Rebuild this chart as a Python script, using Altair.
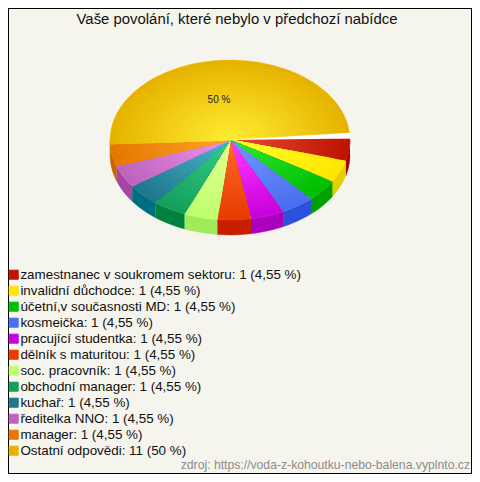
import math
import altair as alt
import pandas as pd

categories = ["zamestnanec v soukromem sektoru", "invalidní důchodce", "účetní,v současnosti MD",
              "kosmeička", "pracující studentka", "dělník s maturitou", "soc. pracovník",
              "obchodní manager", "kuchař", "ředitelka NNO", "manager", "Ostatní odpovědi"]
counts = [1, 1, 1, 1, 1, 1, 1, 1, 1, 1, 1, 11]
percents = ["4,55 %"] * 11 + ["50 %"]
rim_colors = ["#BE1400", "#FFE600", "#00BE00", "#4B6EF0", "#C800DC", "#E63C00",
              "#BEFF6E", "#14A05A", "#1E788C", "#BE64BE", "#E67800", "#E6B400"]
center_colors = ["#E84A36", "#FFFF32", "#32E632", "#7098FF", "#FF3CFF", "#FF6A28",
                 "#E6FF96", "#36CC86", "#4AB4CC", "#EC90EC", "#FFA428", "#FFEB32"]
side_colors = ["#A00000", "#E6CE00", "#00A000", "#2C50DC", "#AA00BE", "#C81E00",
               "#A0EB5A", "#00823C", "#006E82", "#A546A5", "#CC6400", "#B48C00"]

W, H = 464, 466
CX, CY, RX, RY, DEPTH = 222, 132, 120, 80, 15
START, GAP, RINGS = -1.0, 4.0, 20

labels = [f"{c}: {n} ({p})" for c, n, p in zip(categories, counts, percents)]


def mix(a, b, f):
    pa = [int(a[i:i + 2], 16) for i in (1, 3, 5)]
    pb = [int(b[i:i + 2], 16) for i in (1, 3, 5)]
    return "#%02x%02x%02x" % tuple(round(u + (v - u) * f) for u, v in zip(pa, pb))


def arc_pts(t0, t1, frac=1.0, dy=0.0):
    n = max(2, int((t1 - t0) / 3) + 2)
    out = []
    for i in range(n):
        t = math.radians(t0 + (t1 - t0) * i / (n - 1))
        out.append((CX + RX * frac * math.cos(t), CY + RY * frac * math.sin(t) + dy))
    return out


total = sum(counts)
sweep = 360 - GAP
spans = []
cur = START
for n in counts:
    spans.append((cur, cur + sweep * n / total))
    cur = spans[-1][1]

base_rows, ring_rows, side_rows, halo_rows = [], [], [], []
poly = 0


def add(rows, pts, **extra):
    global poly
    poly += 1
    for k, (x, y) in enumerate(pts):
        rows.append({"poly": poly, "k": k, "x": x, "y": y, **extra})


add(halo_rows, arc_pts(0, 180, 1.012, DEPTH) + arc_pts(180, 360, 1.012), color="#ffffff")
for i, (t0, t1) in enumerate(spans):
    a, b = max(t0, 0), min(t1, 180)
    if b > a:
        top = arc_pts(a, b)
        add(side_rows, top + [(x, y + DEPTH) for x, y in reversed(top)], color=side_colors[i])
for i, (t0, t1) in enumerate(spans):
    add(base_rows, [(CX, CY)] + arc_pts(t0, t1), label=labels[i])
    for r in range(1, RINGS):
        f = 1 - r / RINGS
        add(ring_rows, [(CX, CY)] + arc_pts(t0, t1, f), color=mix(rim_colors[i], center_colors[i], r / (RINGS - 1)))
add(ring_rows, [(CX, CY)] + arc_pts(spans[-1][1], 359), color="#ffffff")

X = alt.X("x:Q", scale=alt.Scale(domain=[0, W], nice=False, zero=False), axis=None)
Y = alt.Y("y:Q", scale=alt.Scale(domain=[H, 0], nice=False, zero=False), axis=None)

halo = alt.Chart(pd.DataFrame(halo_rows)).mark_line(strokeWidth=0, opacity=0.6).encode(
    X, Y, detail="poly:N", order="k:Q", fill=alt.Fill("color:N", scale=None))

side = alt.Chart(pd.DataFrame(side_rows)).mark_line(strokeWidth=0.4, interpolate="linear").encode(
    X, Y, detail="poly:N", order="k:Q",
    fill=alt.Fill("color:N", scale=None), stroke=alt.Stroke("color:N", scale=None))

base = alt.Chart(pd.DataFrame(base_rows)).mark_line(strokeWidth=0.4).encode(
    X, Y, detail="poly:N", order="k:Q",
    fill=alt.Fill("label:N", sort=None, scale=alt.Scale(domain=labels, range=rim_colors),
                  legend=alt.Legend(title=None, orient="none", legendX=-1, legendY=260, symbolType="square",
                                    symbolSize=81, symbolStrokeColor="#222222", symbolStrokeWidth=1,
                                    symbolOpacity=1, labelFont="Liberation Sans", labelFontSize=13.4,
                                    labelColor="#111111", labelLimit=440, labelOffset=0, rowPadding=1,
                                    padding=0)),
    stroke=alt.Stroke("label:N", sort=None, scale=alt.Scale(domain=labels, range=rim_colors), legend=None))

rings = alt.Chart(pd.DataFrame(ring_rows)).mark_line(strokeWidth=0.4).encode(
    X, Y, detail="poly:N", order="k:Q",
    fill=alt.Fill("color:N", scale=None), stroke=alt.Stroke("color:N", scale=None))

pct = alt.Chart(pd.DataFrame({"x": [CX - 11], "y": [CY - 40], "t": [percents[-1]]})).mark_text(
    font="Liberation Sans", fontSize=10, color="#222222").encode(X, Y, text="t:N")

source = alt.Chart(pd.DataFrame({"x": [462], "y": [457], "t": ["zdroj: https://voda-z-kohoutku-nebo-balena.vyplnto.cz"]})).mark_text(
    font="Liberation Sans", fontSize=12.2, color="#8c8c8c", align="right").encode(X, Y, text="t:N")

title = alt.Chart(pd.DataFrame({"x": [229], "y": [12], "t": ["Vaše povolání, které nebylo v předchozí nabídce"]})).mark_text(
    font="Liberation Sans", fontSize=14.9, color="#111111").encode(X, Y, text="t:N")

chart = alt.layer(halo, side, base, rings, pct, source, title).resolve_scale(fill="independent", stroke="independent").properties(
    width=W, height=H, padding=0, background="#F5F4ED", autosize=alt.AutoSizeParams(type="none"),
).configure_view(stroke="#000000", strokeWidth=2)

chart.save("out.html", embed_options={"renderer": "svg", "actions": False})
